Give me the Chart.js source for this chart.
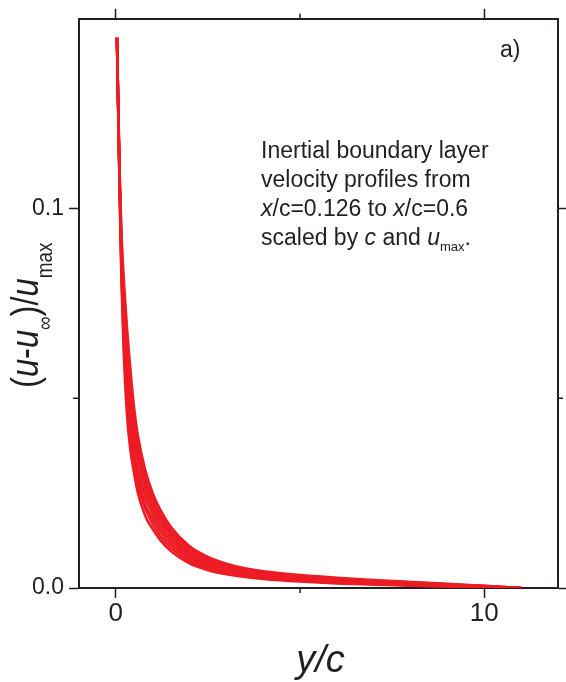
<!DOCTYPE html>
<html>
<head>
<meta charset="utf-8">
<script src="https://cdn.jsdelivr.net/npm/chart.js@4.4.1/dist/chart.umd.min.js"></script>
<style>
  html, body { margin: 0; padding: 0; background: #fff; }
  #wrap { width: 566px; height: 682px; }
</style>
</head>
<body>
<div id="wrap"><canvas id="chart" width="566" height="682"></canvas></div>
<script>
// y/c positions where the profiles were read
const yOverC = [0.03, 0.06, 0.1, 0.15, 0.2, 0.3, 0.4, 0.5, 0.6, 0.8, 1.0, 1.2, 1.5, 2.0, 2.5, 3.0, 3.5, 4, 5, 6, 7, 8, 9, 10, 11];

const profileNames = ['x/c=0.126', 'x/c=0.19', 'x/c=0.26', 'x/c=0.33', 'x/c=0.39', 'x/c=0.46', 'x/c=0.53', 'x/c=0.6'];

// (u-u_inf)/u_max for each profile
const profile1 = [0.145, 0.128, 0.106, 0.082, 0.066, 0.046, 0.036, 0.030, 0.025, 0.019, 0.0155, 0.0127, 0.0097, 0.0065, 0.0047, 0.0036, 0.0029, 0.0024, 0.0017, 0.0012, 0.0009, 0.0006, 0.0004, 0.0002, 0];
const profile2 = [0.145, 0.128, 0.107, 0.084, 0.069, 0.049, 0.039, 0.032, 0.027, 0.021, 0.0169, 0.0138, 0.0106, 0.0071, 0.0052, 0.0040, 0.0032, 0.0027, 0.0019, 0.0014, 0.0011, 0.0007, 0.0005, 0.0003, 0];
const profile3 = [0.145, 0.129, 0.107, 0.085, 0.071, 0.053, 0.042, 0.035, 0.029, 0.022, 0.0182, 0.0150, 0.0115, 0.0078, 0.0057, 0.0044, 0.0036, 0.0030, 0.0022, 0.0016, 0.0012, 0.0009, 0.0006, 0.0003, 0];
const profile4 = [0.145, 0.129, 0.108, 0.087, 0.074, 0.056, 0.045, 0.037, 0.031, 0.024, 0.0196, 0.0161, 0.0124, 0.0084, 0.0062, 0.0048, 0.0039, 0.0033, 0.0024, 0.0018, 0.0014, 0.0010, 0.0007, 0.0004, 0];
const profile5 = [0.145, 0.129, 0.108, 0.089, 0.076, 0.059, 0.048, 0.040, 0.034, 0.026, 0.0209, 0.0173, 0.0133, 0.0091, 0.0067, 0.0052, 0.0042, 0.0036, 0.0027, 0.0021, 0.0016, 0.0012, 0.0008, 0.0004, 0];
const profile6 = [0.145, 0.130, 0.109, 0.090, 0.079, 0.062, 0.051, 0.042, 0.036, 0.028, 0.0223, 0.0184, 0.0142, 0.0097, 0.0072, 0.0056, 0.0045, 0.0039, 0.0029, 0.0023, 0.0018, 0.0013, 0.0009, 0.0005, 0];
const profile7 = [0.145, 0.130, 0.109, 0.092, 0.081, 0.066, 0.054, 0.045, 0.038, 0.029, 0.0236, 0.0195, 0.0151, 0.0104, 0.0077, 0.0060, 0.0049, 0.0042, 0.0032, 0.0025, 0.0019, 0.0015, 0.0010, 0.0005, 0];
const profile8 = [0.145, 0.130, 0.110, 0.094, 0.084, 0.069, 0.057, 0.047, 0.040, 0.031, 0.0250, 0.0207, 0.0160, 0.0110, 0.0082, 0.0064, 0.0052, 0.0044, 0.0034, 0.0027, 0.0021, 0.0016, 0.0011, 0.0006, 0];

const profiles = [profile1, profile2, profile3, profile4, profile5, profile6, profile7, profile8];

const xMajorTicks = [0, 10];
const xMinorTicks = [5];
const yMajorTicks = [0, 0.1];
const yMinorTicks = [0.05];

const INK = '#231f20';
const RED = '#ed1c24';
const FONT = '"Liberation Sans", Arial, sans-serif';

// draws a run of text pieces, each {t, it, sub}
function drawRuns(ctx, runs, x, y, size, subSize, subShift) {
  let cx = x;
  runs.forEach(r => {
    const s = r.sub ? subSize : size;
    ctx.font = (r.it ? 'italic ' : '') + s + 'px ' + FONT;
    ctx.fillText(r.t, cx, y + (r.sub ? subShift : 0));
    cx += ctx.measureText(r.t).width;
  });
  return cx;
}

const extrasPlugin = {
  id: 'extras',
  afterDraw(chart) {
    const ctx = chart.ctx;
    const { x, y } = chart.scales;
    const area = chart.chartArea;
    ctx.save();
    ctx.strokeStyle = INK;
    ctx.lineWidth = 1.5;
    // minor ticks
    ctx.beginPath();
    xMinorTicks.forEach(v => {
      const px = x.getPixelForValue(v);
      ctx.moveTo(px, area.bottom); ctx.lineTo(px, area.bottom + 5);
      ctx.moveTo(px, area.top); ctx.lineTo(px, area.top - 5);
    });
    yMinorTicks.forEach(v => {
      const py = y.getPixelForValue(v);
      ctx.moveTo(area.left, py); ctx.lineTo(area.left - 6, py);
      ctx.moveTo(area.right, py); ctx.lineTo(area.right + 5, py);
    });
    ctx.stroke();

    ctx.fillStyle = INK;
    ctx.textBaseline = 'alphabetic';
    ctx.textAlign = 'left';

    // panel label
    ctx.font = '23px ' + FONT;
    ctx.fillText('a)', 500, 57);

    // note
    const lx = 261, size = 23;
    drawRuns(ctx, [{ t: 'Inertial boundary layer' }], lx, 158, size);
    drawRuns(ctx, [{ t: 'velocity profiles from' }], lx, 187, size);
    drawRuns(ctx, [{ t: 'x', it: true }, { t: '/c=0.126 to ' }, { t: 'x', it: true }, { t: '/c=0.6' }], lx, 216, size);
    drawRuns(ctx, [{ t: 'scaled by ' }, { t: 'c', it: true }, { t: ' and ' }, { t: 'u', it: true }, { t: 'max', sub: true }, { t: '.' }], lx, 245, size, 13, 6);

    // x title
    ctx.font = 'italic 38px ' + FONT;
    const xt = 'y/c';
    const w = ctx.measureText(xt).width;
    ctx.fillText(xt, (area.left + area.right) / 2 - w / 2 + 2, 672);

    // y title, rotated and a little condensed along the text
    ctx.translate(38, 388);
    ctx.rotate(-Math.PI / 2);
    ctx.scale(0.86, 1);
    drawRuns(ctx, [
      { t: '(' }, { t: 'u', it: true }, { t: '-' }, { t: 'u', it: true }, { t: '\u221e', sub: true },
      { t: ')/' }, { t: 'u', it: true }, { t: 'max', sub: true }
    ], 0, 0, 38, 22, 14);
    ctx.restore();
  }
};

const datasets = profiles.map((p, i) => ({
  label: profileNames[i],
  data: yOverC.map((v, j) => ({ x: v, y: p[j] })),
  borderColor: RED,
  borderWidth: 2.6,
  pointRadius: 0,
  fill: false,
  cubicInterpolationMode: 'monotone'
}));

const gridOpts = {
  drawOnChartArea: false,
  drawTicks: true,
  tickLength: 10,
  tickColor: INK,
  tickWidth: 1.5
};
const borderOpts = { display: true, color: INK, width: 2 };

new Chart(document.getElementById('chart'), {
  type: 'line',
  data: { datasets },
  options: {
    responsive: false,
    animation: false,
    layout: { padding: 0 },
    plugins: { legend: { display: false }, tooltip: { enabled: false } },
    scales: {
      x: {
        type: 'linear', position: 'bottom', min: -1, max: 12,
        afterBuildTicks: s => { s.ticks = xMajorTicks.map(v => ({ value: v })); },
        afterFit: s => { s.height = 94; },
        ticks: { color: INK, font: { family: FONT, size: 26 }, padding: 0, maxRotation: 0 },
        grid: gridOpts, border: borderOpts
      },
      x2: {
        type: 'linear', position: 'top', min: -1, max: 12,
        afterBuildTicks: s => { s.ticks = xMajorTicks.map(v => ({ value: v })); },
        afterFit: s => { s.height = 15; },
        ticks: { display: false },
        grid: gridOpts, border: borderOpts
      },
      y: {
        type: 'linear', position: 'left', min: 0, max: 0.15,
        afterBuildTicks: s => { s.ticks = yMajorTicks.map(v => ({ value: v })); },
        afterFit: s => { s.width = 79; },
        ticks: { color: INK, font: { family: FONT, size: 23 }, padding: 5, callback: v => v.toFixed(1) },
        grid: gridOpts, border: borderOpts
      },
      y2: {
        type: 'linear', position: 'right', min: 0, max: 0.15,
        afterBuildTicks: s => { s.ticks = yMajorTicks.map(v => ({ value: v })); },
        afterFit: s => { s.width = 8; },
        ticks: { display: false },
        grid: gridOpts, border: borderOpts
      }
    }
  },
  plugins: [extrasPlugin]
});
</script>
</body>
</html>
